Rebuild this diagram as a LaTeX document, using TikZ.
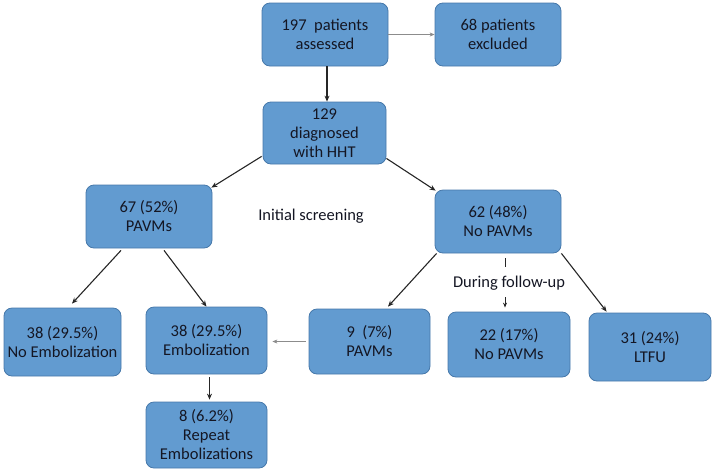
\documentclass[tikz,border=0pt]{standalone}
\usepackage{fontspec}
\setmainfont{Carlito}
\usetikzlibrary{arrows.meta}
\definecolor{boxfill}{RGB}{98,155,208}
\definecolor{boxline}{RGB}{70,120,170}
\definecolor{txt}{RGB}{20,22,35}
\tikzset{
  box/.style={draw=boxline, line width=0.8pt, fill=boxfill, rounded corners=8pt,
    align=center, text=txt, font=\fontsize{16.5}{19}\selectfont, inner sep=0pt},
  arr/.style={draw=black!85, line width=1.1pt, -{Stealth[length=6pt,width=5pt]}},
  garr/.style={draw=black!45, line width=0.6pt, -{Stealth[length=5pt,width=4pt]}},
  lbl/.style={text=txt, font=\fontsize{16.5}{19}\selectfont}
}
\begin{document}
\begin{tikzpicture}[x=1pt,y=-1pt]
\useasboundingbox (0,0) rectangle (714,472);
\node[box, minimum width=126pt, minimum height=63pt] (A) at (325,34.5) {197\ \ patients\\assessed};
\node[box, minimum width=126pt, minimum height=63pt] (B) at (498,34.5) {68 patients\\excluded};
\node[box, minimum width=123pt, minimum height=62pt] (C) at (324.5,133) {129\\diagnosed\\with HHT};
\node[box, minimum width=126pt, minimum height=63pt] (D) at (149,216.5) {67 (52\%)\\PAVMs};
\node[box, minimum width=126pt, minimum height=63pt] (E) at (498,221.5) {62 (48\%)\\No PAVMs};
\node[box, minimum width=117pt, minimum height=68pt] (F) at (62.5,342) {38 (29.5\%)\\No Embolization};
\node[box, minimum width=121pt, minimum height=67pt] (G) at (206.5,340.5) {38 (29.5\%)\\Embolization};
\node[box, minimum width=121pt, minimum height=66pt] (H) at (206.5,435) {8 (6.2\%)\\Repeat\\Embolizations};
\node[box, minimum width=121pt, minimum height=65pt] (I) at (369.5,341.5) {9\ \ (7\%)\\PAVMs};
\node[box, minimum width=122pt, minimum height=65pt] (J) at (509,344.5) {22 (17\%)\\No PAVMs};
\node[box, minimum width=122pt, minimum height=68pt] (K) at (650,347) {31 (24\%)\\LTFU};
\node[lbl] (L1) at (311,216) {Initial screening};
\node[lbl] (L2) at (509,283) {During follow-up};
\coordinate (t1) at (505,258);
\coordinate (t2) at (505,267);
\coordinate (t3) at (505,297);
\draw[garr] (A.east) -- (B.west);
\draw[arr] ([shift={(2,0)}]A.south) -- ([shift={(2.5,0)}]C.north);
\draw[arr] ([shift={(-1,-8)}]C.south west) -- ([shift={(-1,3)}]D.north east);
\draw[arr] ([shift={(0,-6)}]C.south east) -- ([shift={(1,1)}]E.north west);
\draw[arr] ([shift={(-28,2)}]D.south) -- ([shift={(9.5,-4)}]F.north);
\draw[arr] ([shift={(15,2)}]D.south) -- ([shift={(0,0)}]G.north);
\draw[arr] ([shift={(3,3)}]G.south) -- ([shift={(3,-2)}]H.north);
\draw[garr] ([shift={(-3,0)}]I.west) -- ([shift={(5,1)}]G.east);
\draw[arr] ([shift={(2,0)}]E.south west) -- ([shift={(18.5,-2)}]I.north);
\draw[arr] ([shift={(0,0)}]E.south east) -- ([shift={(18,-1)}]K.north west);
\draw[draw=black!85, line width=0.9pt] (t1) -- (t2);
\draw[draw=black!85, line width=0.9pt, -{Stealth[length=5pt,width=4pt]}] (t3) -- ([shift={(-4,-4)}]J.north);
\end{tikzpicture}
\end{document}
